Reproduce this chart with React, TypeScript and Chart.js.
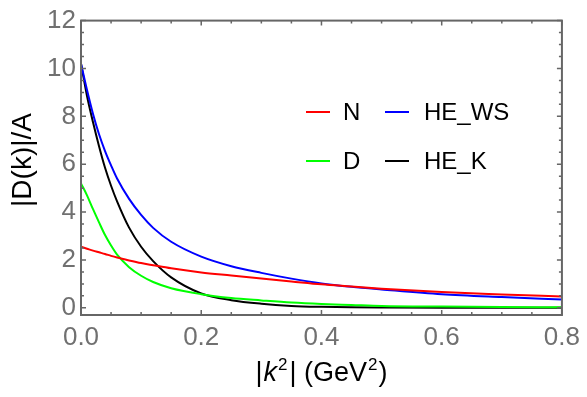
import React, { useEffect, useRef } from "react";
import { Chart, registerables } from "chart.js";
Chart.register(...registerables);

const kValues = [0, 0.01, 0.02, 0.03, 0.04, 0.05, 0.06, 0.08, 0.1, 0.12, 0.15, 0.2, 0.25, 0.3, 0.35, 0.4, 0.45, 0.5, 0.6, 0.7, 0.8];
const nValues = [2.55, 2.47, 2.39, 2.32, 2.25, 2.17, 2.1, 1.98, 1.87, 1.78, 1.65, 1.48, 1.35, 1.22, 1.1, 0.98, 0.89, 0.8, 0.66, 0.56, 0.47];
const dValues = [5.2, 4.7, 4.12, 3.57, 3.04, 2.6, 2.22, 1.7, 1.34, 1.08, 0.82, 0.57, 0.41, 0.31, 0.22, 0.16, 0.12, 0.08, 0.05, 0.03, 0.02];
const heWsValues = [10.2, 9.1, 8.1, 7.25, 6.55, 5.95, 5.4, 4.55, 3.88, 3.34, 2.76, 2.14, 1.74, 1.46, 1.22, 1.02, 0.88, 0.77, 0.57, 0.45, 0.35];
const heKValues = [10.2, 8.85, 7.75, 6.75, 5.85, 5.1, 4.45, 3.35, 2.55, 1.95, 1.27, 0.6, 0.32, 0.17, 0.08, 0.04, 0.02, 0.01, 0.0, 0.0, 0.0];

const seriesNames = ["N", "D", "HE_WS", "HE_K"];
const seriesColors = ["#ff0000", "#00ff00", "#0000ff", "#000000"];

const xTickValues = [0, 0.2, 0.4, 0.6, 0.8];
const xMinorTicks = [0.05, 0.1, 0.15, 0.25, 0.3, 0.35, 0.45, 0.5, 0.55, 0.65, 0.7, 0.75];
const yTickValues = [0, 2, 4, 6, 8, 10, 12];
const yMinorTicks = [0.5, 1, 1.5, 2.5, 3, 3.5, 4.5, 5, 5.5, 6.5, 7, 7.5, 8.5, 9, 9.5, 10.5, 11, 11.5];

const FONT = '"Liberation Sans", Arial, sans-serif';
const FRAME = "#666666";
const TICKCOL = "#707070";

const framePlugin = {
  id: "frameTicks",
  afterDatasetsDraw(chart: any) {
    const { ctx, chartArea: a, scales } = chart;
    const x = scales.x, y = scales.y;
    ctx.save();
    ctx.strokeStyle = FRAME;
    ctx.lineWidth = 1.5;
    ctx.beginPath();
    const tick = (vals: number[], len: number) => {
      vals.forEach((v) => {
        const px = x.getPixelForValue(v);
        ctx.moveTo(px, a.bottom); ctx.lineTo(px, a.bottom - len);
        ctx.moveTo(px, a.top); ctx.lineTo(px, a.top + len);
      });
    };
    const ytick = (vals: number[], len: number) => {
      vals.forEach((v) => {
        const py = y.getPixelForValue(v);
        ctx.moveTo(a.left, py); ctx.lineTo(a.left + len, py);
        ctx.moveTo(a.right, py); ctx.lineTo(a.right - len, py);
      });
    };
    tick(xTickValues, 5); tick(xMinorTicks, 3);
    ytick(yTickValues, 5); ytick(yMinorTicks, 3);
    ctx.stroke();
    ctx.lineWidth = 2;
    ctx.strokeRect(a.left, a.top, a.right - a.left, a.bottom - a.top);

    // legend
    const cols = [[306, 343], [385, 424]];
    const rows = [112, 161];
    ctx.font = `24px ${FONT}`;
    ctx.textBaseline = "middle";
    ctx.textAlign = "left";
    chart.data.datasets.forEach((ds: any, i: number) => {
      const c = cols[Math.floor(i / 2)];
      const r = rows[i % 2];
      ctx.strokeStyle = ds.borderColor;
      ctx.lineWidth = 2;
      ctx.beginPath();
      ctx.moveTo(c[0], r); ctx.lineTo(c[0] + 24, r);
      ctx.stroke();
      ctx.fillStyle = "#000";
      ctx.fillText(ds.label, c[1], r + 1);
    });

    // y title
    ctx.save();
    ctx.translate(23, 160);
    ctx.rotate(-Math.PI / 2);
    ctx.textAlign = "center";
    ctx.textBaseline = "middle";
    ctx.font = `28px ${FONT}`;
    ctx.fillText("|D(k)|/A", 0, 0);
    ctx.restore();

    // x title with italic k and superscripts
    const parts: [string, string, number, number][] = [
      ["|", `27px ${FONT}`, 0, 1],
      ["k", `italic 27px ${FONT}`, 0, 1],
      ["2", `17px ${FONT}`, -11, 2],
      ["|", `27px ${FONT}`, 0, 0],
      [" (GeV", `27px ${FONT}`, 0, 1],
      ["2", `17px ${FONT}`, -11, 1],
      [")", `27px ${FONT}`, 0, 0],
    ];
    let total = 0;
    parts.forEach((p) => { ctx.font = p[1]; total += ctx.measureText(p[0]).width + p[3]; });
    let cx = (a.left + a.right) / 2 - total / 2;
    ctx.textBaseline = "alphabetic";
    ctx.textAlign = "left";
    parts.forEach((p) => {
      ctx.font = p[1];
      ctx.fillText(p[0], cx, 381 + p[2]);
      cx += ctx.measureText(p[0]).width + p[3];
    });
    ctx.restore();
  },
};

export default function App() {
  const ref = useRef<HTMLCanvasElement>(null);
  useEffect(() => {
    document.body.style.margin = "0";
    const all = [nValues, dValues, heWsValues, heKValues];
    const chart = new Chart(ref.current!, {
      type: "line",
      data: {
        datasets: all.map((vals, i) => ({
          label: seriesNames[i],
          data: kValues.map((k, j) => ({ x: k, y: vals[j] })),
          borderColor: seriesColors[i],
          backgroundColor: seriesColors[i],
          borderWidth: 2,
          pointRadius: 0,
          cubicInterpolationMode: "monotone" as const,
          fill: false,
        })),
      },
      options: {
        animation: false,
        responsive: false,
        maintainAspectRatio: false,
        layout: { padding: { top: 15, right: 20, left: 0, bottom: 0 } },
        plugins: { legend: { display: false }, tooltip: { enabled: false } },
        scales: {
          x: {
            type: "linear",
            min: 0,
            max: 0.8,
            afterBuildTicks: (s: any) => { s.ticks = xTickValues.map((v) => ({ value: v })); },
            afterFit: (s: any) => { s.height = 82; },
            grid: { display: false, drawTicks: false },
            border: { display: false },
            ticks: {
              padding: 7,
              color: TICKCOL,
              font: { family: FONT, size: 26 },
              maxRotation: 0,
              autoSkip: false,
              callback: (v: any) => Number(v).toFixed(1),
            },
          },
          y: {
            type: "linear",
            min: -0.3,
            max: 12,
            afterBuildTicks: (s: any) => { s.ticks = yTickValues.map((v) => ({ value: v })); },
            afterFit: (s: any) => { s.width = 81; },
            grid: { display: false, drawTicks: false },
            border: { display: false },
            ticks: {
              padding: 5,
              color: TICKCOL,
              font: { family: FONT, size: 26 },
              autoSkip: false,
              callback: (v: any) => String(v),
            },
          },
        },
      },
      plugins: [framePlugin],
    });
    return () => chart.destroy();
  }, []);
  return <canvas ref={ref} width={587} height={397} style={{ display: "block" }} />;
}
